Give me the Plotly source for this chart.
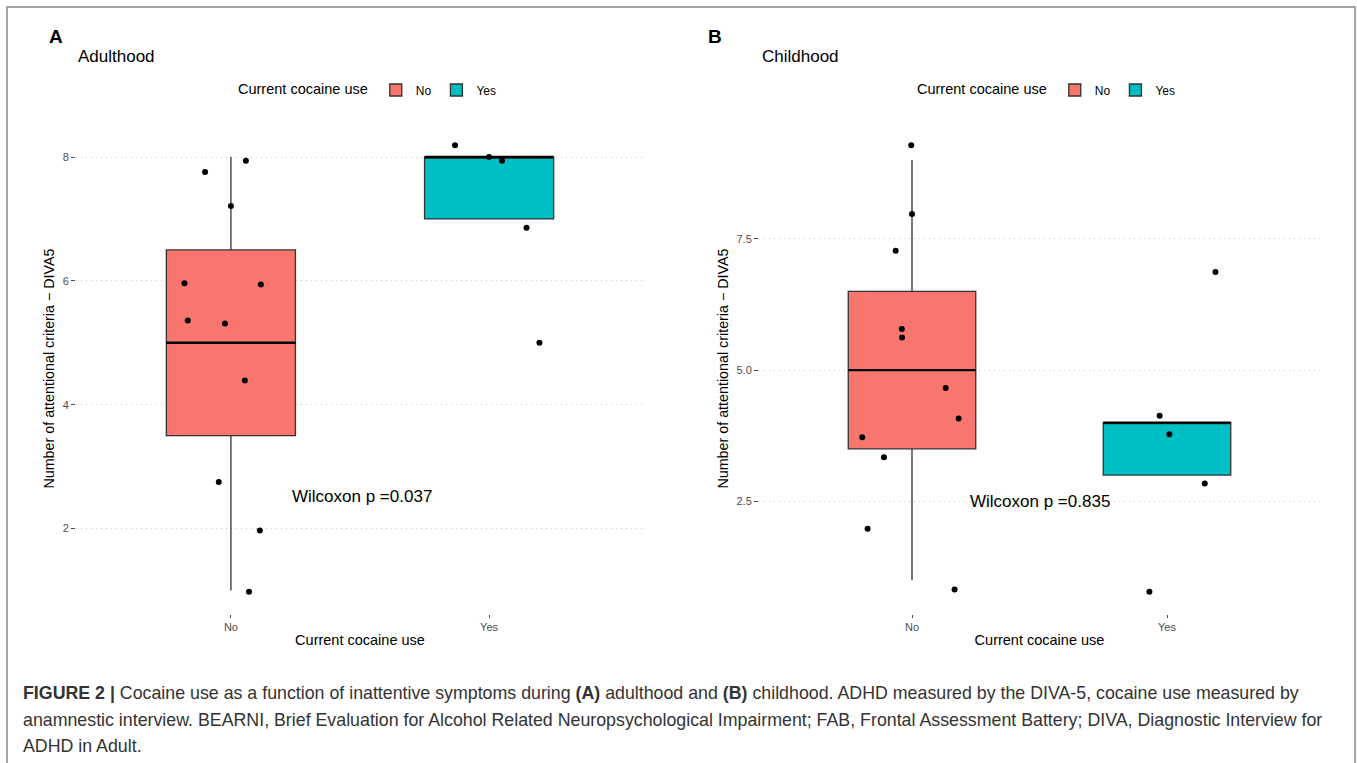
import plotly.graph_objects as go

# ---------------- data ----------------
categories = ["No", "Yes"]
cat_pos = [1, 2]

# Panel A (Adulthood) box statistics
a_q1 = [3.5, 7.0]
a_median = [5.0, 8.0]
a_q3 = [6.5, 8.0]
a_lower = [1.0, 7.0]
a_upper = [8.0, 8.0]

# Panel A jittered points (jitter offset from category, value)
a_no_jit = [-0.10, 0.058, 0.0, -0.18, 0.116, -0.167, -0.023, 0.054, -0.047, 0.112, 0.07]
a_no_val = [7.76, 7.94, 7.21, 5.96, 5.94, 5.36, 5.31, 4.39, 2.75, 1.97, 0.98]
a_yes_jit = [-0.132, 0.0, 0.05, 0.145, 0.195]
a_yes_val = [8.19, 8.0, 7.94, 6.86, 5.0]

# Panel B (Childhood) box statistics
b_q1 = [3.5, 3.0]
b_median = [5.0, 4.0]
b_q3 = [6.5, 4.0]
b_lower = [1.0, 3.0]
b_upper = [9.0, 4.0]

b_no_jit = [-0.003, 0.0, -0.064, -0.04, -0.039, 0.132, 0.183, -0.195, -0.11, -0.174, 0.167]
b_no_val = [9.28, 7.97, 7.27, 5.78, 5.62, 4.66, 4.08, 3.72, 3.34, 1.98, 0.82]
b_yes_jit = [0.19, -0.029, 0.009, 0.148, -0.069]
b_yes_val = [6.87, 4.13, 3.78, 2.84, 0.78]

a_ticks = [2, 4, 6, 8]
b_ticks = [2.5, 5.0, 7.5]
b_ticklabels = ["2.5", "5.0", "7.5"]

p_labels = ["Wilcoxon p =0.037", "Wilcoxon p =0.835"]
colors = ["#F8766D", "#00BFC4"]
box_width = 0.5

W, H = 1357, 763
FONT = "Liberation Sans, Arial, sans-serif"

fig = go.Figure()

def px_x(v):
    return v / W

def px_y(v):
    return 1 - v / H

panels = [
    dict(xa="x", ya="y", q1=a_q1, med=a_median, q3=a_q3, lo=a_lower, hi=a_upper,
         pts=[(a_no_jit, a_no_val), (a_yes_jit, a_yes_val)], legend="legend"),
    dict(xa="x2", ya="y2", q1=b_q1, med=b_median, q3=b_q3, lo=b_lower, hi=b_upper,
         pts=[(b_no_jit, b_no_val), (b_yes_jit, b_yes_val)], legend="legend2"),
]

for p in panels:
    for i, cat in enumerate(categories):
        fig.add_trace(go.Box(
            x=[cat_pos[i]], q1=[p["q1"][i]], median=[p["med"][i]], q3=[p["q3"][i]],
            lowerfence=[p["lo"][i]], upperfence=[p["hi"][i]],
            name=cat, width=box_width, fillcolor=colors[i],
            line=dict(color="#333333", width=1.3), whiskerwidth=0,
            boxpoints=False, xaxis=p["xa"], yaxis=p["ya"],
            legend=p["legend"], showlegend=True, hoverinfo="skip",
        ))
        # thicker median line (ggplot style)
        fig.add_trace(go.Scatter(
            x=[cat_pos[i] - box_width / 2, cat_pos[i] + box_width / 2],
            y=[p["med"][i], p["med"][i]], mode="lines",
            line=dict(color="black", width=2.4), showlegend=False,
            xaxis=p["xa"], yaxis=p["ya"], hoverinfo="skip",
        ))
    for i, (jit, val) in enumerate(p["pts"]):
        fig.add_trace(go.Scatter(
            x=[cat_pos[i] + j for j in jit], y=val, mode="markers",
            marker=dict(color="black", size=6), showlegend=False,
            xaxis=p["xa"], yaxis=p["ya"], hoverinfo="skip",
        ))

ydom = [px_y(614), px_y(123)]
xdomA = [px_x(76), px_x(644)]
xdomB = [px_x(759), px_x(1320)]

xcommon = dict(range=[0.4, 2.6], tickvals=cat_pos, ticktext=categories,
               showgrid=False, zeroline=False, showline=False,
               ticks="outside", ticklen=3, tickcolor="#4D4D4D",
               tickfont=dict(size=11, color="#4D4D4D", family=FONT),
               title=dict(text="Current cocaine use", font=dict(size=14.5, color="black", family=FONT), standoff=2))
ycommon = dict(showgrid=True, gridcolor="#C8C8C8", griddash="1px,4px", gridwidth=1.2,
               zeroline=False, showline=False, ticks="outside", ticklen=4, tickcolor="#4D4D4D",
               tickfont=dict(size=11, color="#4D4D4D", family=FONT),
               title=dict(text="Number of attentional criteria \u2212 DIVA5",
                          font=dict(size=14.3, color="black", family=FONT), standoff=4))

leg_common = dict(orientation="h", xanchor="left", yanchor="middle",
                  title=dict(text="Current cocaine use", side="left",
                             font=dict(size=14.5, color="black", family=FONT)),
                  font=dict(size=12, color="black", family=FONT), itemwidth=30,
                  bgcolor="rgba(0,0,0,0)", tracegroupgap=0)

fig.update_layout(
    width=W, height=H, margin=dict(l=0, r=0, t=0, b=0),
    paper_bgcolor="white", plot_bgcolor="white",
    font=dict(family=FONT),
    xaxis=dict(domain=xdomA, anchor="y", **xcommon),
    xaxis2=dict(domain=xdomB, anchor="y2", **xcommon),
    yaxis=dict(domain=ydom, anchor="x", range=[0.62, 8.55], tickvals=a_ticks, **ycommon),
    yaxis2=dict(domain=ydom, anchor="x2", range=[0.355, 9.705], tickvals=b_ticks,
                ticktext=b_ticklabels, **ycommon),
    legend=dict(x=px_x(236), y=px_y(90), **leg_common),
    legend2=dict(x=px_x(915), y=px_y(90), **leg_common),
    showlegend=True,
)

annotations = [
    dict(text="<b>A</b>", x=px_x(47), y=px_y(37), xref="paper", yref="paper", xanchor="left",
         yanchor="middle", showarrow=False, font=dict(size=19, color="black")),
    dict(text="Adulthood", x=px_x(76), y=px_y(56), xref="paper", yref="paper", xanchor="left",
         yanchor="middle", showarrow=False, font=dict(size=17, color="black")),
    dict(text="<b>B</b>", x=px_x(706), y=px_y(37), xref="paper", yref="paper", xanchor="left",
         yanchor="middle", showarrow=False, font=dict(size=19, color="black")),
    dict(text="Childhood", x=px_x(760), y=px_y(56), xref="paper", yref="paper", xanchor="left",
         yanchor="middle", showarrow=False, font=dict(size=17, color="black")),
    dict(text=p_labels[0], x=1.23, y=2.52, xref="x", yref="y", xanchor="left", yanchor="middle",
         showarrow=False, font=dict(size=17, color="black")),
    dict(text=p_labels[1], x=1.22, y=2.5, xref="x2", yref="y2", xanchor="left", yanchor="middle",
         showarrow=False, font=dict(size=17, color="black")),
]

caption_lines = [
    "<b>FIGURE 2 |</b> Cocaine use as a function of inattentive symptoms during <b>(A)</b> adulthood and <b>(B)</b> childhood. ADHD measured by the DIVA-5, cocaine use measured by",
    "anamnestic interview. BEARNI, Brief Evaluation for Alcohol Related Neuropsychological Impairment; FAB, Frontal Assessment Battery; DIVA, Diagnostic Interview for",
    "ADHD in Adult.",
]
caption_y = [693, 720, 746]
for txt, yy in zip(caption_lines, caption_y):
    annotations.append(dict(text=txt, x=px_x(21), y=px_y(yy), xref="paper", yref="paper",
                            xanchor="left", yanchor="middle", showarrow=False,
                            font=dict(size=17.8, color="#333333")))
fig.update_layout(annotations=annotations)

fig.add_shape(type="rect", xref="paper", yref="paper",
              x0=px_x(7), x1=px_x(1355), y0=-0.05, y1=px_y(7),
              line=dict(color="#888888", width=1.5), fillcolor="rgba(0,0,0,0)")

fig.write_html("out.html", config={"displayModeBar": False},
               post_script="document.body.style.margin='0';document.body.style.overflow='hidden';")
